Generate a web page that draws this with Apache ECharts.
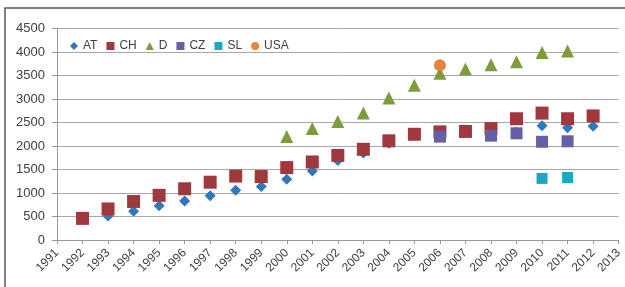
<!DOCTYPE html>
<html>
<head>
<meta charset="utf-8">
<script src="https://cdn.jsdelivr.net/npm/echarts@6/dist/echarts.min.js"></script>
<style>
    html, body {margin:0;padding:0;background:#fff}
    #chart {width:625px;height:287px}
</style>
</head>
<body>
<div id="chart"></div>
<script>
    // years on the x axis, one slot per year, null = no point
    var years = [1992, 1993, 1994, 1995, 1996, 1997, 1998, 1999, 2000, 2001, 2002,
                 2003, 2004, 2005, 2006, 2007, 2008, 2009, 2010, 2011, 2012];
    var at  = [null, 510, 610, 730, 830, 940, 1060, 1140, 1290, 1470, 1690,
               1850, 2060, 2230, 2250, null, 2250, 2300, 2430, 2390, 2420];
    var ch  = [460, 660, 820, 950, 1090, 1230, 1360, 1350, 1540, 1660, 1800,
               1930, 2110, 2250, 2300, 2310, 2370, 2580, 2700, 2580, 2640];
    var d   = [null, null, null, null, null, null, null, null, 2200, 2370, 2520,
               2700, 3020, 3290, 3550, 3640, 3730, 3790, 3990, 4020, null];
    var cz  = [null, null, null, null, null, null, null, null, null, null, null,
               null, null, null, 2200, null, 2220, 2270, 2090, 2100, null];
    var sl  = [null, null, null, null, null, null, null, null, null, null, null,
               null, null, null, null, null, null, null, 1310, 1330, null];
    var usa = [null, null, null, null, null, null, null, null, null, null, null,
               null, null, null, 3720, null, null, null, null, null, null];

    var yTicks = [0, 500, 1000, 1500, 2000, 2500, 3000, 3500, 4000, 4500];

    function pairs(vals) {
        var out = [];
        for (var i = 0; i < years.length; i++) {
            if (vals[i] != null) out.push([years[i], vals[i]]);
        }
        return out;
    }

    function sc(name, vals, symbol, size, color) {
        return {
            name: name,
            type: 'scatter',
            symbol: symbol,
            symbolSize: size,
            itemStyle: {color: color, opacity: 1},
            data: pairs(vals)
        };
    }

    var chart = echarts.init(document.getElementById('chart'));
    chart.setOption({
        animation: false,
        textStyle: {fontFamily: 'Liberation Sans, Arial, sans-serif'},
        graphic: [{
            type: 'rect',
            shape: {x: 5, y: 8, width: 640, height: 300},
            style: {fill: 'none', stroke: '#555', lineWidth: 1.5},
            silent: true
        }],
        legend: {
            left: 65,
            top: 35,
            itemWidth: 8,
            itemHeight: 8,
            itemGap: 9,
            textStyle: {color: '#404040', fontSize: 12},
            data: [
                {name: 'AT', icon: 'diamond'},
                {name: 'CH', icon: 'rect'},
                {name: 'D', icon: 'triangle'},
                {name: 'CZ', icon: 'rect'},
                {name: 'SL', icon: 'rect'},
                {name: 'USA', icon: 'circle'}
            ]
        },
        grid: {left: 57, right: 1, top: 28.5, height: 211.5, containLabel: false},
        xAxis: {
            type: 'value',
            min: 1991,
            max: 2013,
            interval: 1,
            axisLine: {show: true, lineStyle: {color: '#999'}},
            axisTick: {show: true, length: 4, lineStyle: {color: '#999'}},
            splitLine: {show: false},
            axisLabel: {
                rotate: 45,
                fontSize: 12,
                color: '#404040',
                margin: 11,
                formatter: function (v) { return String(v); }
            }
        },
        yAxis: {
            type: 'value',
            min: yTicks[0],
            max: yTicks[yTicks.length - 1],
            interval: 500,
            axisLine: {show: true, lineStyle: {color: '#999'}},
            axisTick: {show: true, length: 5, lineStyle: {color: '#999'}},
            splitLine: {show: true, lineStyle: {color: '#a8a8a8', width: 1}},
            axisLabel: {
                fontSize: 13,
                color: '#404040',
                margin: 12,
                formatter: function (v) { return String(v); }
            }
        },
        series: [
            sc('AT', at, 'diamond', 11, '#2f78bd'),
            sc('CH', ch, 'rect', 13, '#a0393d'),
            sc('D', d, 'triangle', 13, '#7f9c3c'),
            sc('CZ', cz, 'rect', 12, '#6460a6'),
            sc('SL', sl, 'rect', 11, '#1ba7c7'),
            sc('USA', usa, 'circle', 12, '#e8843a')
        ]
    });
</script>
</body>
</html>
